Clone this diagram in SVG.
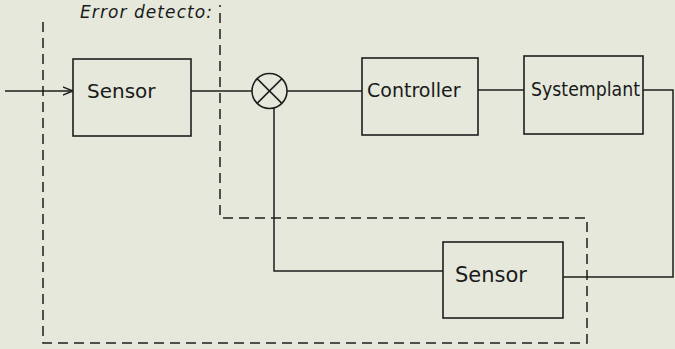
<svg xmlns="http://www.w3.org/2000/svg" width="675" height="349" viewBox="0 0 675 349">
<defs>
<style>
.box{fill:none;stroke:#1e1e1e;stroke-width:1.6}
.ln{fill:none;stroke:#1e1e1e;stroke-width:1.5}
.dash{fill:none;stroke:#1e1e1e;stroke-width:1.5;stroke-dasharray:10 6}
.t{font-family:"DejaVu Sans","Liberation Sans",sans-serif;fill:#1a1a1a}
</style>
<marker id="arr" viewBox="0 0 10 10" refX="10" refY="5" markerWidth="7" markerHeight="7" orient="auto"><path d="M0,1 L10,5 L0,9" fill="none" stroke="#1e1e1e" stroke-width="1.3"/></marker>
</defs>
<rect width="675" height="349" fill="#e5e8db"/>
<g id="error-detector">
<text class="t" x="80" y="18" font-size="17" font-style="italic" textLength="132">Error detecto:</text>
<path class="dash" d="M43,22 V343 H587 V218 H220 V5"/>
</g>
<g id="connectors">
<line class="ln" x1="5" y1="91" x2="73" y2="91" marker-end="url(#arr)"/>
<line class="ln" x1="191" y1="91" x2="252" y2="91"/>
<line class="ln" x1="287" y1="91" x2="362" y2="91"/>
<line class="ln" x1="478" y1="90" x2="524" y2="90"/>
<path class="ln" d="M643,90 H673 V277 H563"/>
<path class="ln" d="M274,108 V271 H443"/>
</g>
<g id="sensor1">
<rect class="box" x="73" y="59" width="118" height="77"/>
<text class="t" x="87" y="98" font-size="20">Sensor</text>
</g>
<g id="comparator">
<circle class="box" cx="269.5" cy="91" r="17.5"/>
<line class="ln" x1="257.1" y1="78.6" x2="281.9" y2="103.4"/>
<line class="ln" x1="281.9" y1="78.6" x2="257.1" y2="103.4"/>
</g>
<g id="controller">
<rect class="box" x="362" y="58" width="116" height="77"/>
<text class="t" x="367" y="97" font-size="19">Controller</text>
</g>
<g id="systemplant">
<rect class="box" x="524" y="56" width="119" height="78"/>
<text class="t" x="531" y="96" font-size="19" textLength="109" lengthAdjust="spacingAndGlyphs">Systemplant</text>
</g>
<g id="sensor2">
<rect class="box" x="443" y="242" width="120" height="76"/>
<text class="t" x="455" y="282" font-size="21">Sensor</text>
</g>
</svg>
